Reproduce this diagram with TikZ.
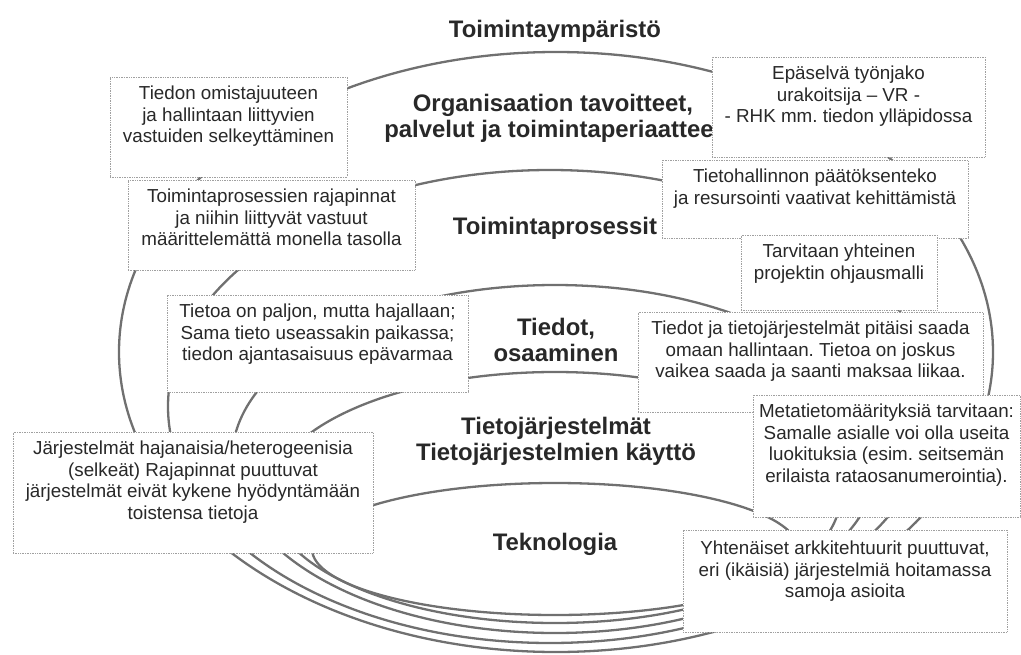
\documentclass[tikz,border=0pt]{standalone}
\usepackage{fontspec}
\setmainfont{Liberation Sans}
\usetikzlibrary{positioning}
\definecolor{ring}{RGB}{112,112,112}
\definecolor{ink}{RGB}{40,40,40}
\definecolor{frame}{RGB}{160,160,160}
\frenchspacing

\begin{document}
\begin{tikzpicture}[x=1pt, y=-1pt, node distance=9pt,
  ring/.style={draw=ring, line width=2.3pt},
  layer/.style={font=\fontsize{23.9}{26}\selectfont\bfseries, text=ink, align=center, inner sep=0pt},
  box/.style 2 args={draw=frame, densely dotted, line width=0.7pt, fill=white, inner sep=0pt,
    minimum width=#1, minimum height=#2},
  note/.style={font=\fontsize{18.8}{21.6}\selectfont, text=ink, align=center, inner sep=0pt}]

\useasboundingbox (0,0) rectangle (1021,654);

% nested rings, outer to inner
\foreach \cx/\cy/\rx/\ry in {556/352/437/300, 550/406.5/382/236.5, 555/459/323/174,
    555/497.5/285/125.5, 555/549/243/66}
  \draw [ring] (\cx,\cy) ellipse [x radius=\rx, y radius=\ry];

\node [layer] (env) at (555,31) {Toimintaympäristö};
\node [layer] (org) at (553,118) {Organisaation tavoitteet,\\palvelut ja toimintaperiaatteet};
\node [layer] (proc) at (555,228) {Toimintaprosessit};
\node [layer] (know) at (556,340) {Tiedot,\\osaaminen};
\node [layer] (is) at (556,441) {Tietojärjestelmät\\Tietojärjestelmien käyttö};
\node [layer] (tech) at (555,544) {Teknologia};

% left column
\node [box={237}{100}] (own) at (228.5,127) {};
\node [note, below = of own.north] (ownT) {Tiedon omistajuuteen\\ja hallintaan liittyvien\\vastuiden selkeyttäminen};

\node [box={287}{90}] (iface) at (271.5,225) {};
\node [note, below = of iface.north] (ifaceT) {Toimintaprosessien rajapinnat\\ja niihin liittyvät vastuut\\määrittelemättä monella tasolla};

\node [box={301}{97}] (scatter) at (317.5,343.5) {};
\node [note, below = of scatter.north] (scatterT) {Tietoa on paljon, mutta hajallaan;\\Sama tieto useassakin paikassa;\\tiedon ajantasaisuus epävarmaa};

\node [box={360}{121}] (legacy) at (193,492.5) {};
\node [note, below = of legacy.north] (legacyT) {Järjestelmät hajanaisia/heterogeenisia\\(selkeät) Rajapinnat puuttuvat\\järjestelmät eivät kykene hyödyntämään\\toistensa tietoja};

% right column
\node [box={273}{100}] (split) at (848.5,107) {};
\node [note, below = of split.north] (splitT) {Epäselvä työnjako\\urakoitsija – VR -\\- RHK mm. tiedon ylläpidossa};

\node [box={306}{78}] (mgmt) at (815,199) {};
\node [note, below = of mgmt.north] (mgmtT) {Tietohallinnon päätöksenteko\\ja resursointi vaativat kehittämistä};

\node [box={196}{75}] (steer) at (839,272.5) {};
\node [note, below = of steer.north] (steerT) {Tarvitaan yhteinen\\projektin ohjausmalli};

\node [box={345}{100}] (ctrl) at (810.5,362) {};
\node [note, below = of ctrl.north] (ctrlT) {Tiedot ja tietojärjestelmät pitäisi saada\\omaan hallintaan. Tietoa on joskus\\vaikea saada ja saanti maksaa liikaa.};

\node [box={267}{122}] (meta) at (886.5,456) {};
\node [note, below = of meta.north] (metaT) {Metatietomäärityksiä tarvitaan:\\Samalle asialle voi olla useita\\luokituksia (esim. seitsemän\\erilaista rataosanumerointia).};

\node [box={324}{102}] (arch) at (845,581) {};
\node [note, below = 11pt of arch.north] (archT) {Yhtenäiset arkkitehtuurit puuttuvat,\\eri (ikäisiä) järjestelmiä hoitamassa\\samoja asioita};

\end{tikzpicture}
\end{document}
